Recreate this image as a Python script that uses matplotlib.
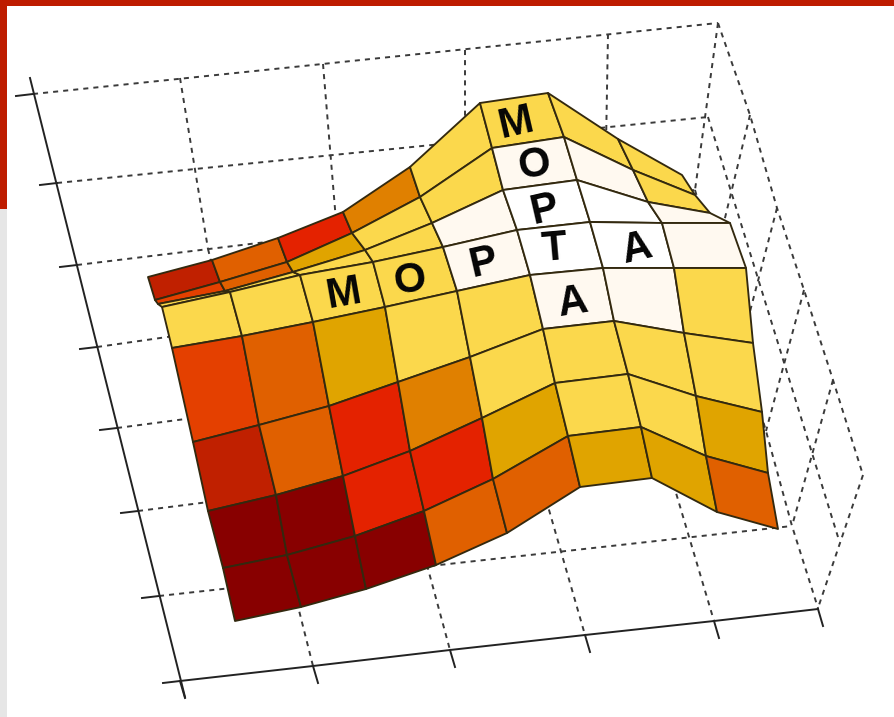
import matplotlib
matplotlib.use("Agg")
import matplotlib.pyplot as plt
from matplotlib.collections import PolyCollection
from matplotlib.colors import ListedColormap
import numpy as np

# surface nodes (front row first)
surf_x = [
    [235, 301, 366, 436, 507, 580, 652, 717, 778],
    [223, 287, 355, 424, 493, 568, 641, 706, 768],
    [208, 276, 343, 410, 482, 555, 628, 696, 762],
    [193, 259, 329, 398, 470, 543, 614, 684, 753],
    [172, 242, 313, 385, 457, 530, 603, 674, 746],
    [162, 230, 300, 373, 443, 517, 590, 662, 730],
    [158, 225, 293, 365, 432, 503, 577, 648, 710],
    [155, 220, 287, 352, 420, 492, 564, 633, 695],
    [148, 212, 278, 343, 410, 480, 548, 618, 682],
]
surf_y = [
    [621, 607, 589, 565, 533, 487, 478, 512, 529],
    [568, 555, 536, 511, 479, 436, 427, 456, 473],
    [511, 495, 476, 451, 418, 383, 374, 396, 412],
    [442, 425, 406, 382, 357, 329, 321, 333, 343],
    [348, 336, 322, 307, 291, 275, 268, 268, 268],
    [307, 292, 275, 262, 247, 230, 222, 223, 223],
    [304, 291, 272, 250, 223, 190, 180, 202, 213],
    [300, 282, 262, 233, 197, 148, 137, 170, 195],
    [277, 260, 238, 212, 167, 103,  93, 139, 175],
]
# colour class of every facet
surf_level = [
    [0, 0, 0, 4, 4, 6, 6, 4],
    [0, 0, 2, 2, 6, 7, 7, 6],
    [1, 4, 2, 5, 7, 7, 7, 7],
    [3, 4, 6, 7, 7, 8, 8, 7],
    [7, 7, 7, 7, 8, 9, 9, 8],
    [7, 7, 7, 7, 8, 9, 9, 8],
    [3, 4, 6, 7, 7, 8, 8, 7],
    [1, 4, 2, 5, 7, 7, 7, 7],
]
heat_colors = ["#880000", "#C02000", "#E42200", "#E44000", "#E06000",
               "#E08000", "#E0A400", "#FBD84C", "#FFF9F0", "#FFFFFF"]

letters = ["M", "O", "P", "T", "A", "M", "O", "P", "A"]
letter_x = [343, 410, 483, 554, 637, 516, 534, 544, 573]
letter_y = [294, 281, 263, 249, 249, 123, 165, 210, 303]
letter_rot = [10, 8, 13, 5, 13, 13, 10, 13, 9]

# solid axes
left_ticks_x = [33, 57, 77, 97, 117, 138, 159, 180]
left_ticks_y = [94, 183, 265, 347, 428, 511, 596, 681]
bottom_ticks_x = [180, 313, 450, 585, 714, 818]
bottom_ticks_y = [681, 666, 650, 635, 621, 609]
# where the horizontal dashed lines end on the right
right_ends_x = [718, 708, 695, 715, 741, 766, 792]
right_ends_y = [23, 117, 190, 259, 346, 431, 526]
# back wall verticals, floor lines
wall_top_x = [180, 323, 465, 608]
wall_top_y = [78, 64, 50, 34]
wall_bot_x = [208, 337, 465, 605]
wall_bot_y = [249, 233, 218, 201]
floor_back_x = [208, 337, 465, 590]
floor_back_y = [249, 233, 218, 203]
# right hand side wall, lattice of crossing lines
side_c_x = [718, 750, 777, 804, 833, 863]
side_c_y = [23, 115, 208, 290, 380, 475]
side_d_x = [695, 715, 741, 766, 792, 818]
side_d_y = [190, 259, 346, 431, 526, 608]

fig = plt.figure(figsize=(8.94, 7.17), dpi=100)
ax = fig.add_axes([0, 0, 1, 1])
ax.set_xlim(0, 894)
ax.set_ylim(717, 0)
ax.axis("off")

# page decoration
ax.fill_between([0, 7], 208, 717, color="#E6E6E6", lw=0, zorder=1)
ax.fill_between([0, 7], 0, 209, color="#BE1C00", lw=0, zorder=1)
ax.fill_between([0, 894], 0, 6, color="#BE1C00", lw=0, zorder=1)

dash = dict(color="#3A3A3A", lw=1.4, ls=(0, (2.6, 2.6)), zorder=2)
solid = dict(color="#222222", lw=1.4, zorder=3)

# dashed box
for i in range(7):
    ax.plot([left_ticks_x[i], right_ends_x[i]], [left_ticks_y[i], right_ends_y[i]], **dash)
for i in range(4):
    ax.plot([wall_top_x[i], wall_bot_x[i]], [wall_top_y[i], wall_bot_y[i]], **dash)
    ax.plot([floor_back_x[i], bottom_ticks_x[i + 1]], [floor_back_y[i], bottom_ticks_y[i + 1]], **dash)
ax.plot(side_c_x, side_c_y, **dash)
ax.plot(side_d_x, side_d_y, **dash)
ax.plot([side_c_x[-1], side_d_x[-1]], [side_c_y[-1], side_d_y[-1]], **dash)
ax.plot([right_ends_x[1], 838], [right_ends_y[1], 537], **dash)
for i in range(5):
    ax.plot([side_c_x[i], side_d_x[i]], [side_c_y[i], side_d_y[i]], **dash)

# solid axes and ticks
ax.plot([30, 185], [78, 697], **solid)
ax.plot(bottom_ticks_x, bottom_ticks_y, **solid)
for x, y in zip(left_ticks_x, left_ticks_y):
    ax.plot([x - 17, x], [y + 2, y], **solid)
for x, y in zip(bottom_ticks_x, bottom_ticks_y):
    ax.plot([x, x + 5], [y, y + 17], **solid)

# surface, painted from the back row to the front
sx = np.array(surf_x)
sy = np.array(surf_y)
level = np.array(surf_level)
polys = []
vals = []
for r in range(level.shape[0] - 1, -1, -1):
    for c in range(level.shape[1]):
        polys.append([(sx[r, c], sy[r, c]), (sx[r, c + 1], sy[r, c + 1]),
                      (sx[r + 1, c + 1], sy[r + 1, c + 1]), (sx[r + 1, c], sy[r + 1, c])])
        vals.append(level[r, c])
pc = PolyCollection(polys, array=np.array(vals), cmap=ListedColormap(heat_colors),
                    edgecolors="#33290F", linewidths=1.35, zorder=4)
pc.set_clim(-0.5, len(heat_colors) - 0.5)
ax.add_collection(pc)

for s, x, y, rot in zip(letters, letter_x, letter_y, letter_rot):
    ax.text(x, y, s, fontsize=30, fontweight="bold", family="Liberation Sans",
            color="#050505", ha="center", va="center", rotation=rot,
            rotation_mode="anchor", zorder=5)

fig.savefig("out.png", dpi=100)
